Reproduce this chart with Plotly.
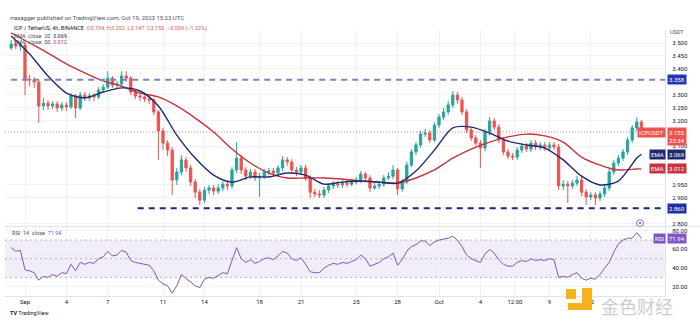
import plotly.graph_objects as go
import pandas as pd

# ---------------- data (8h candles) ----------------
start = pd.Timestamp("2023-08-31 00:00")

opens = [3.481, 3.496, 3.488, 3.492, 3.360, 3.357, 3.349, 3.256, 3.267, 3.256,
         3.264, 3.248, 3.260, 3.252, 3.295, 3.248, 3.298, 3.287, 3.295, 3.291,
         3.318, 3.329, 3.364, 3.337, 3.341, 3.372, 3.364, 3.310, 3.295, 3.291,
         3.283, 3.279, 3.233, 3.159, 3.112, 3.085, 2.969, 3.000, 3.047, 3.016,
         2.961, 2.922, 2.891, 2.930, 2.938, 2.926, 2.938, 2.953, 2.946, 3.008,
         3.054, 3.008, 2.984, 3.000, 2.977, 2.984, 3.000, 3.004, 2.996, 3.016,
         3.047, 3.039, 3.008, 3.000, 3.016, 2.977, 2.922, 2.915, 2.911, 2.930,
         2.946, 2.953, 2.950, 2.957, 2.953, 2.961, 2.969, 2.992, 2.977, 2.938,
         2.946, 2.953, 2.977, 2.984, 3.008, 2.934, 2.961, 3.027, 3.078, 3.105,
         3.147, 3.151, 3.124, 3.182, 3.213, 3.233, 3.260, 3.298, 3.279, 3.233,
         3.163, 3.132, 3.112, 3.093, 3.155, 3.198, 3.174, 3.124, 3.078, 3.062,
         3.058, 3.085, 3.101, 3.089, 3.112, 3.097, 3.105, 3.093, 3.105, 3.097,
         2.946, 2.953, 2.946, 2.957, 2.969, 2.922, 2.903, 2.911, 2.899, 2.915,
         2.938, 3.000, 3.035, 3.054, 3.078, 3.124, 3.171, 3.194]

closes = [3.496, 3.488, 3.492, 3.360, 3.357, 3.349, 3.256, 3.267, 3.256, 3.264,
          3.248, 3.260, 3.252, 3.295, 3.248, 3.298, 3.287, 3.295, 3.291, 3.318,
          3.329, 3.364, 3.337, 3.341, 3.372, 3.364, 3.310, 3.295, 3.291, 3.283,
          3.279, 3.233, 3.159, 3.112, 3.085, 2.969, 3.000, 3.047, 3.016, 2.961,
          2.922, 2.891, 2.930, 2.938, 2.926, 2.938, 2.953, 2.946, 3.008, 3.054,
          3.008, 2.984, 3.000, 2.977, 2.984, 3.000, 3.004, 2.996, 3.016, 3.047,
          3.039, 3.008, 3.000, 3.016, 2.977, 2.922, 2.915, 2.911, 2.930, 2.946,
          2.953, 2.950, 2.957, 2.953, 2.961, 2.969, 2.992, 2.977, 2.938, 2.946,
          2.953, 2.977, 2.984, 3.008, 2.934, 2.961, 3.027, 3.078, 3.105, 3.147,
          3.151, 3.124, 3.182, 3.213, 3.233, 3.260, 3.298, 3.279, 3.233, 3.163,
          3.132, 3.112, 3.093, 3.155, 3.198, 3.174, 3.124, 3.078, 3.062, 3.058,
          3.085, 3.101, 3.089, 3.112, 3.097, 3.105, 3.093, 3.105, 3.097, 2.946,
          2.953, 2.946, 2.957, 2.969, 2.922, 2.903, 2.911, 2.899, 2.915, 2.938,
          3.000, 3.035, 3.054, 3.078, 3.124, 3.171, 3.194, 3.155]

highs = [3.512, 3.508, 3.504, 3.500, 3.376, 3.368, 3.357, 3.287, 3.279, 3.275,
         3.275, 3.271, 3.271, 3.306, 3.302, 3.310, 3.310, 3.306, 3.306, 3.329,
         3.341, 3.391, 3.372, 3.353, 3.391, 3.391, 3.372, 3.322, 3.302, 3.298,
         3.295, 3.287, 3.240, 3.171, 3.124, 3.097, 3.016, 3.066, 3.058, 3.027,
         2.973, 2.934, 2.942, 2.950, 2.950, 2.953, 2.965, 2.965, 3.019, 3.116,
         3.066, 3.019, 3.012, 3.012, 2.996, 3.012, 3.016, 3.016, 3.027, 3.062,
         3.058, 3.050, 3.019, 3.027, 3.027, 2.988, 2.934, 2.930, 2.942, 2.957,
         2.965, 2.965, 2.969, 2.969, 2.973, 2.981, 3.004, 3.000, 2.988, 2.957,
         2.965, 2.988, 3.000, 3.027, 3.016, 2.973, 3.039, 3.089, 3.116, 3.159,
         3.167, 3.163, 3.194, 3.225, 3.248, 3.275, 3.314, 3.310, 3.291, 3.244,
         3.174, 3.143, 3.124, 3.167, 3.213, 3.209, 3.186, 3.136, 3.089, 3.074,
         3.097, 3.112, 3.112, 3.124, 3.124, 3.116, 3.116, 3.116, 3.116, 3.109,
         2.969, 2.965, 2.969, 2.984, 2.981, 2.934, 2.922, 2.922, 2.926, 2.950,
         3.012, 3.047, 3.066, 3.089, 3.136, 3.182, 3.213, 3.202]

lows = [3.473, 3.477, 3.469, 3.298, 3.333, 3.326, 3.190, 3.240, 3.240, 3.244,
        3.233, 3.236, 3.236, 3.244, 3.209, 3.240, 3.275, 3.275, 3.275, 3.283,
        3.306, 3.322, 3.326, 3.326, 3.333, 3.349, 3.298, 3.283, 3.275, 3.271,
        3.264, 3.221, 3.047, 3.085, 3.062, 2.911, 2.950, 2.988, 3.000, 2.946,
        2.899, 2.872, 2.880, 2.915, 2.911, 2.915, 2.926, 2.930, 2.934, 2.996,
        2.992, 2.969, 2.973, 2.965, 2.903, 2.973, 2.988, 2.981, 2.984, 3.004,
        3.023, 2.996, 2.984, 2.988, 2.965, 2.899, 2.903, 2.899, 2.899, 2.919,
        2.934, 2.938, 2.938, 2.942, 2.946, 2.953, 2.957, 2.965, 2.922, 2.930,
        2.934, 2.942, 2.969, 2.973, 2.911, 2.922, 2.953, 3.019, 3.066, 3.093,
        3.136, 3.112, 3.116, 3.171, 3.202, 3.221, 3.248, 3.264, 3.221, 3.151,
        3.120, 3.101, 3.016, 3.081, 3.143, 3.163, 3.112, 3.066, 3.050, 3.047,
        3.047, 3.074, 3.078, 3.078, 3.085, 3.085, 3.081, 3.081, 3.085, 2.930,
        2.930, 2.880, 2.934, 2.946, 2.907, 2.872, 2.891, 2.872, 2.888, 2.903,
        2.926, 2.988, 3.023, 3.043, 3.066, 3.112, 3.159, 3.147]

# EMA values read at every 4th candle (and the last one)
ema_idx = list(range(0, 137, 4)) + [137]
ema20 = [3.527, 3.457, 3.372, 3.306, 3.287, 3.310, 3.326, 3.314, 3.256, 3.143,
         3.054, 2.988, 2.961, 2.981, 2.981, 2.996, 2.988, 2.953, 2.961, 2.965,
         2.961, 2.957, 3.004, 3.085, 3.171, 3.174, 3.151, 3.120, 3.105, 3.093,
         3.047, 2.984, 2.950, 2.965, 3.054, 3.069]
ema50 = [3.539, 3.500, 3.461, 3.419, 3.384, 3.353, 3.333, 3.306, 3.291, 3.256,
         3.209, 3.155, 3.089, 3.035, 2.996, 2.977, 2.977, 2.977, 2.973, 2.965,
         2.961, 2.957, 2.977, 3.008, 3.054, 3.089, 3.116, 3.136, 3.147, 3.140,
         3.116, 3.058, 3.027, 3.008, 3.012, 3.012]

rsi = [62, 58, 59, 38, 37, 35, 27, 31, 30, 33,
       31, 35, 34, 44, 37, 46, 44, 46, 45, 50,
       52, 58, 53, 54, 59, 57, 48, 46, 45, 44,
       43, 37, 27, 23, 21, 13, 21, 33, 29, 24,
       21, 19, 28, 30, 29, 32, 35, 34, 48, 62,
       50, 46, 49, 45, 47, 50, 51, 49, 53, 58,
       56, 50, 48, 51, 44, 36, 35, 35, 40, 43,
       45, 44, 46, 45, 47, 49, 54, 50, 42, 44,
       46, 50, 52, 56, 43, 49, 58, 63, 65, 69,
       69, 64, 68, 70, 71, 72, 74, 70, 63, 54,
       50, 48, 46, 55, 60, 56, 49, 44, 42, 42,
       46, 48, 47, 50, 48, 49, 48, 50, 49, 30,
       31, 30, 33, 35, 29, 27, 29, 28, 33, 40,
       46, 57, 66, 70, 72, 72, 78, 71.94]

resistance = 3.358
support = 2.860
support_from = "2023-09-09 04:00"

tick_dates = ["2023-09-01", "2023-09-04", "2023-09-07", "2023-09-11", "2023-09-14",
              "2023-09-18", "2023-09-21", "2023-09-25", "2023-09-28", "2023-10-01",
              "2023-10-04", "2023-10-06 12:00", "2023-10-09", "2023-10-12"]
tick_text = ["Sep", "4", "7", "11", "14", "18", "21", "25", "28", "Oct",
             "4", "12:00", "9", "12"]
# price-axis labels left visible (the others sit under the label boxes)
price_ticks = [2.80, 2.90, 2.95, 3.10, 3.20, 3.25, 3.30, 3.40, 3.45, 3.50]
rsi_ticks = [20, 40, 60, 80]

assert len(opens) == len(closes) == len(highs) == len(lows) == len(rsi)
assert len(ema_idx) == len(ema20) == len(ema50)

times = [start + pd.Timedelta(hours=8 * i) for i in range(len(closes))]
ema_times = [start + pd.Timedelta(hours=8 * i) for i in ema_idx]
x_left = pd.Timestamp("2023-08-30 13:13")
x_right = pd.Timestamp("2023-10-17 09:03")

# ---------------- styling helpers (pixel -> paper) ----------------
FONT = "Roboto"
L, R, T, B = 5, 665, 30, 296


def pxx(x):
    return (x - L) / (R - L)


def pyy(y):
    return (B - y) / (B - T)


GREEN, RED = "#26a69a", "#ef5350"
NAVY, EMARED, PURPLE = "#1f2a6e", "#c8323c", "#7e57c2"

fig = go.Figure()
fig.add_trace(go.Candlestick(
    x=times, open=opens, high=highs, low=lows, close=closes,
    increasing=dict(line=dict(color=GREEN, width=1), fillcolor=GREEN),
    decreasing=dict(line=dict(color=RED, width=1), fillcolor=RED),
    whiskerwidth=0, showlegend=False, hoverinfo="skip", xaxis="x", yaxis="y"))
fig.add_trace(go.Scatter(x=ema_times, y=ema50, mode="lines", showlegend=False,
                         line=dict(color=EMARED, width=1.4, shape="spline", smoothing=0.8),
                         xaxis="x", yaxis="y", hoverinfo="skip"))
fig.add_trace(go.Scatter(x=ema_times, y=ema20, mode="lines", showlegend=False,
                         line=dict(color=NAVY, width=1.4, shape="spline", smoothing=0.8),
                         xaxis="x", yaxis="y", hoverinfo="skip"))
fig.add_trace(go.Scatter(x=times, y=rsi, mode="lines", showlegend=False,
                         line=dict(color=PURPLE, width=1),
                         xaxis="x2", yaxis="y2", hoverinfo="skip"))

shapes = []
# level lines
shapes.append(dict(type="line", xref="x", yref="y", x0=times[0], x1=x_right,
                   y0=resistance, y1=resistance,
                   line=dict(color="#7c84c8", width=2, dash="6px,5px")))
shapes.append(dict(type="line", xref="x", yref="y", x0=support_from, x1=x_right,
                   y0=support, y1=support,
                   line=dict(color="#1c2580", width=2, dash="6px,5px")))
# current price line
shapes.append(dict(type="line", xref="paper", yref="y", x0=0, x1=1,
                   y0=closes[-1], y1=closes[-1],
                   line=dict(color="rgba(239,83,80,0.75)", width=1, dash="1px,2px")))
# RSI band and levels
shapes.append(dict(type="rect", xref="paper", yref="y2", x0=0, x1=1, y0=30, y1=70,
                   fillcolor="rgba(126,87,194,0.10)", line=dict(width=0), layer="below"))
for lv in (70, 50, 30):
    shapes.append(dict(type="line", xref="paper", yref="y2", x0=0, x1=1, y0=lv, y1=lv,
                       line=dict(color="rgba(120,123,134,0.55)", width=1, dash="2px,3px")))
# pane separator
shapes.append(dict(type="line", xref="paper", yref="paper", x0=pxx(L), x1=pxx(700),
                   y0=pyy(226.5), y1=pyy(226.5), line=dict(color="#e0e3eb", width=1)))
# RSI alert marker
shapes.append(dict(type="circle", xref="paper", yref="paper",
                   x0=pxx(636.5), x1=pxx(643.5), y0=pyy(226.5), y1=pyy(219.5),
                   line=dict(color="#9c6ade", width=1)))
shapes.append(dict(type="circle", xref="paper", yref="paper",
                   x0=pxx(638.8), x1=pxx(641.2), y0=pyy(224.2), y1=pyy(221.8),
                   fillcolor="#9c6ade", line=dict(width=0)))
# watermark logo (yellow)
YEL = "#f5b21b"
for (x0, y0, x1, y1) in [(566, 289, 576, 299), (582, 288, 592, 310), (568, 303, 592, 310)]:
    shapes.append(dict(type="rect", xref="paper", yref="paper",
                       x0=pxx(x0), x1=pxx(x1), y0=pyy(y1), y1=pyy(y0),
                       fillcolor=YEL, line=dict(width=0)))

ann = []


def text(x, y, s, size=6, color="#131722", anchor="left", family=FONT, **kw):
    ann.append(dict(xref="paper", yref="paper", x=pxx(x), y=pyy(y), text=s,
                    showarrow=False, xanchor=anchor, yanchor="middle",
                    font=dict(size=size, color=color, family=family), **kw))


def box(yref, yval, s, bg, xpix, anchor="left", size=6, yanchor="middle", yshift=0):
    ann.append(dict(xref="paper", yref=yref, x=pxx(xpix), y=yval, text=s,
                    showarrow=False, xanchor=anchor, yanchor=yanchor, yshift=yshift,
                    bgcolor=bg, borderpad=1, align="center",
                    font=dict(size=size, color="white", family=FONT)))


o, h, lo, c = opens[-1], highs[-1], lows[-1], closes[-1]
chg = c - closes[-2]
pct = chg / closes[-2] * 100

text(8, 18, "rrasagger published on TradingView.com, Oct 19, 2023 15:23 UTC",
     size=6, color="#4a4e59")
text(12, 28.5, "ICP / TetherUS, 4h, BINANCE  "
     f"<span style='color:{RED}'>O{o:.3f}  H{h:.3f}  L{lo:.3f}  C{c:.3f}  "
     f"{chg:+.3f} ({pct:+.2f}%)</span>".replace("-", "−"), size=5.5)
text(12, 36, f"EMA  close  20  <span style='color:{NAVY}'>{ema20[-1]:.3f}</span>",
     size=5.5, color="#4a4e59")
text(12, 42.5, f"EMA  close  50  <span style='color:{EMARED}'>{ema50[-1]:.3f}</span>",
     size=5.5, color="#4a4e59")
text(10, 233, f"RSI  14  close  <span style='color:{PURPLE}'>{rsi[-1]:.2f}</span>",
     size=5.5, color="#4a4e59")
text(677, 32, "USDT", size=5.5, color="#4a4e59", anchor="center")
text(8, 313, "<b>TV</b> TradingView", size=5.5, color="#131722")
text(637, 306, "金色财经", size=18, color="#cdcdcd", anchor="center",
     family="Noto Sans CJK SC")

# price-axis label boxes
box("y", resistance, f"{resistance:.3f}", "#2433b8", 667)
box("y", support, f"{support:.3f}", "#1f2fa6", 667)
box("y", c, "ICPUSDT", RED, 666, anchor="right")
box("y", c, f"{c:.3f}<br>23:34", RED, 667, yanchor="top", yshift=5)
box("y", ema20[-1], "EMA", NAVY, 666, anchor="right")
box("y", ema20[-1], f"{ema20[-1]:.3f}", NAVY, 667)
box("y", ema50[-1], "EMA", EMARED, 666, anchor="right")
box("y", ema50[-1], f"{ema50[-1]:.3f}", EMARED, 667)
box("y2", rsi[-1], "RSI", PURPLE, 666, anchor="right")
box("y2", rsi[-1], f"{rsi[-1]:.2f}", PURPLE, 667)

GRID = "#f1f2f6"
axis_font = dict(size=6, color="#131722", family=FONT)
fig.update_layout(
    width=700, height=322,
    margin=dict(l=L, r=700 - R, t=T, b=322 - B),
    paper_bgcolor="white", plot_bgcolor="white",
    showlegend=False,
    xaxis=dict(domain=[0, 1], anchor="y", type="date", range=[x_left, x_right],
               tickvals=tick_dates, showticklabels=False, showgrid=True,
               gridcolor=GRID, zeroline=False, rangeslider=dict(visible=False),
               matches="x2", showline=False),
    xaxis2=dict(domain=[0, 1], anchor="y2", type="date", range=[x_left, x_right],
                tickvals=tick_dates, ticktext=tick_text, tickfont=axis_font,
                showgrid=True, gridcolor=GRID, zeroline=False, ticks="",
                showline=True, linecolor="#e0e3eb", linewidth=1),
    yaxis=dict(domain=[0.263, 1], anchor="x", side="right", range=[2.7907, 3.5504],
               tickvals=price_ticks, ticktext=[f"{v:.3f}" for v in price_ticks],
               tickfont=axis_font, showgrid=True, gridcolor=GRID, zeroline=False,
               showline=True, linecolor="#e0e3eb", linewidth=1, ticks="",
               ticklabelstandoff=5),
    yaxis2=dict(domain=[0, 0.259], anchor="x2", side="right", range=[10.0, 83.9],
                tickvals=rsi_ticks, ticktext=[f"{v:.2f}" for v in rsi_ticks],
                tickfont=axis_font, showgrid=True, gridcolor=GRID, zeroline=False,
                showline=True, linecolor="#e0e3eb", linewidth=1, ticks="",
                ticklabelstandoff=5),
    shapes=shapes, annotations=ann,
)

fig.write_html("out.html")
